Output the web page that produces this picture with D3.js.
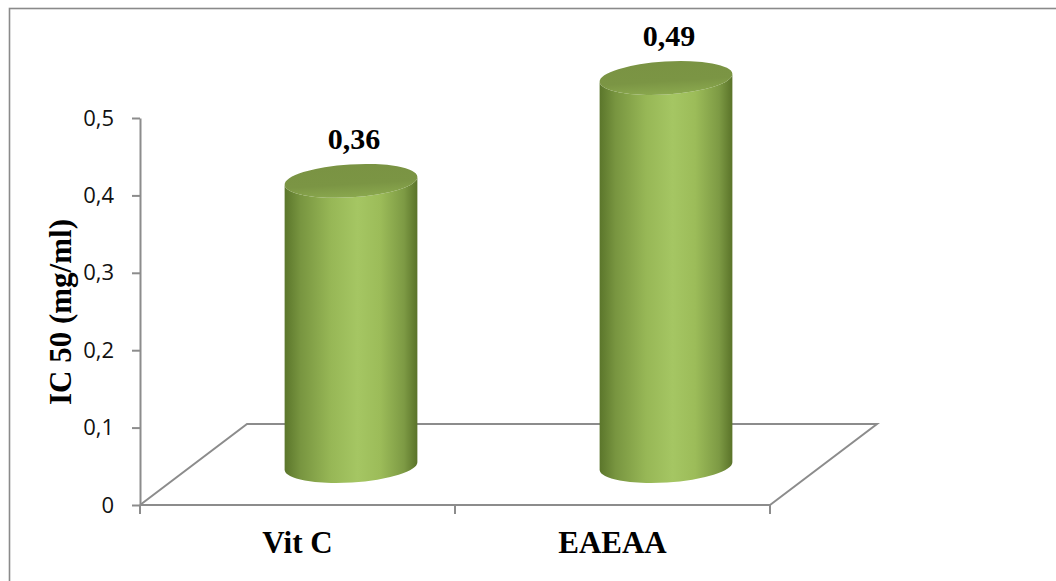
<!DOCTYPE html>
<html><head><meta charset="utf-8">
<script src="https://cdn.jsdelivr.net/npm/d3@7"></script>
<style>html,body{margin:0;padding:0;background:#fff;}svg{display:block;}</style>
</head><body>
<svg id="c" width="1056" height="581"></svg>
<script>
const categories = ["Vit C", "EAEAA"];
const values = [0.36, 0.49];
const valueLabels = ["0,36", "0,49"];
const tickValues = [0, 0.1, 0.2, 0.3, 0.4, 0.5];
const tickLabels = ["0", "0,1", "0,2", "0,3", "0,4", "0,5"];
const yTitle = "IC 50 (mg/ml)";

(function () {
const svg = d3.select("#c");
const depthDx = 107, depthDy = -81;

// outer border
svg.append("rect").attr("x", 9.5).attr("y", 8.5).attr("width", 1100).attr("height", 700)
  .attr("fill", "none").attr("stroke", "#8a8a8a").attr("stroke-width", 1.6);

const x = d3.scaleBand().domain(categories).range([140, 770]).padding(0);
const yFront = d3.scaleLinear().domain([0, 0.5]).range([505, 118]);
const yBar = d3.scaleLinear().domain([0, 0.5]).range([466, 70]);

const defs = svg.append("defs");
const sideG = defs.append("linearGradient").attr("id", "sideG").attr("x1", 0).attr("x2", 1).attr("y1", 0).attr("y2", 0);
[[0, "#5b762b"], [0.12, "#789540"], [0.35, "#97b756"], [0.55, "#a5c663"], [0.72, "#9cbc59"], [0.9, "#7d9a44"], [1, "#5a7329"]]
  .forEach(([o, c]) => sideG.append("stop").attr("offset", o).attr("stop-color", c));
const topG = defs.append("linearGradient").attr("id", "topG").attr("x1", 0).attr("x2", 0).attr("y1", 0).attr("y2", 1);
[[0, "#7a9343"], [0.6, "#7b9544"], [1, "#8aa84e"]]
  .forEach(([o, c]) => topG.append("stop").attr("offset", o).attr("stop-color", c));

// floor
const x0 = x.range()[0], x1 = x.range()[1], y0 = yFront(0);
svg.append("path")
  .attr("d", `M${x0},${y0} L${x0 + depthDx},${y0 + depthDy} L${x1 + depthDx},${y0 + depthDy} L${x1},${y0}`)
  .attr("fill", "none").attr("stroke", "#8c8c8c").attr("stroke-width", 2);

// y axis
const yAxis = d3.axisLeft(yFront).tickValues(tickValues)
  .tickFormat((d, i) => tickLabels[i]).tickSize(8).tickPadding(18).tickSizeOuter(0);
const ga = svg.append("g").attr("transform", `translate(${x0},0)`).call(yAxis);
ga.select(".domain").attr("stroke", "#8c8c8c").attr("stroke-width", 2);
ga.selectAll(".tick line").attr("stroke", "#8c8c8c").attr("stroke-width", 2);
ga.selectAll(".tick text").attr("font-family", "'Open Sans', sans-serif").attr("font-size", 22).attr("fill", "#111");

// x axis line + ticks
svg.append("line").attr("x1", x0).attr("x2", x1).attr("y1", y0).attr("y2", y0)
  .attr("stroke", "#8c8c8c").attr("stroke-width", 2);
const bounds = categories.map(c => x(c)).concat([x1]);
svg.selectAll(".xt").data(bounds).join("line").attr("class", "xt")
  .attr("x1", d => d).attr("x2", d => d).attr("y1", y0).attr("y2", y0 + 9)
  .attr("stroke", "#8c8c8c").attr("stroke-width", 2);
svg.selectAll(".xl").data(categories).join("text").attr("class", "xl")
  .attr("x", d => x(d) + x.bandwidth() / 2).attr("y", 553)
  .attr("text-anchor", "middle").attr("font-family", "'Liberation Serif', serif")
  .attr("font-weight", "bold").attr("font-size", 31).text(d => d);

// y title
svg.append("text").attr("transform", "translate(71,312) rotate(-90)")
  .attr("text-anchor", "middle").attr("font-family", "'Liberation Serif', serif")
  .attr("font-weight", "bold").attr("font-size", 31).text(yTitle);

// cylinders
const rx = 66.5, ry = 16.5, rot = -3.5;
const th = rot * Math.PI / 180;
const ex = rx * Math.cos(th), ey = rx * Math.sin(th);
const bars = svg.selectAll(".bar").data(values).join("g").attr("class", "bar");
bars.append("path")
  .attr("d", (v, i) => {
    const cx = x(categories[i]) + x.bandwidth() / 2 + depthDx / 2;
    const yb = yBar(0), yt = yBar(v);
    return `M${cx - ex},${yt - ey} L${cx - ex},${yb - ey} A${rx},${ry} ${rot} 0 0 ${cx + ex},${yb + ey} L${cx + ex},${yt + ey} A${rx},${ry} ${rot} 0 1 ${cx - ex},${yt - ey} Z`;
  })
  .attr("fill", "url(#sideG)");
bars.append("ellipse")
  .attr("cx", 0).attr("cy", 0).attr("rx", rx).attr("ry", ry)
  .attr("transform", (v, i) => `translate(${x(categories[i]) + x.bandwidth() / 2 + depthDx / 2},${yBar(v)}) rotate(${rot})`)
  .attr("fill", "url(#topG)");

svg.selectAll(".vl").data(values).join("text").attr("class", "vl")
  .attr("x", (v, i) => x(categories[i]) + x.bandwidth() / 2 + depthDx / 2 + 3)
  .attr("y", v => yBar(v) - ry - 15)
  .attr("text-anchor", "middle").attr("font-family", "'Liberation Serif', serif")
  .attr("font-weight", "bold").attr("font-size", 30).text((v, i) => valueLabels[i]);
})();
</script>
</body></html>
